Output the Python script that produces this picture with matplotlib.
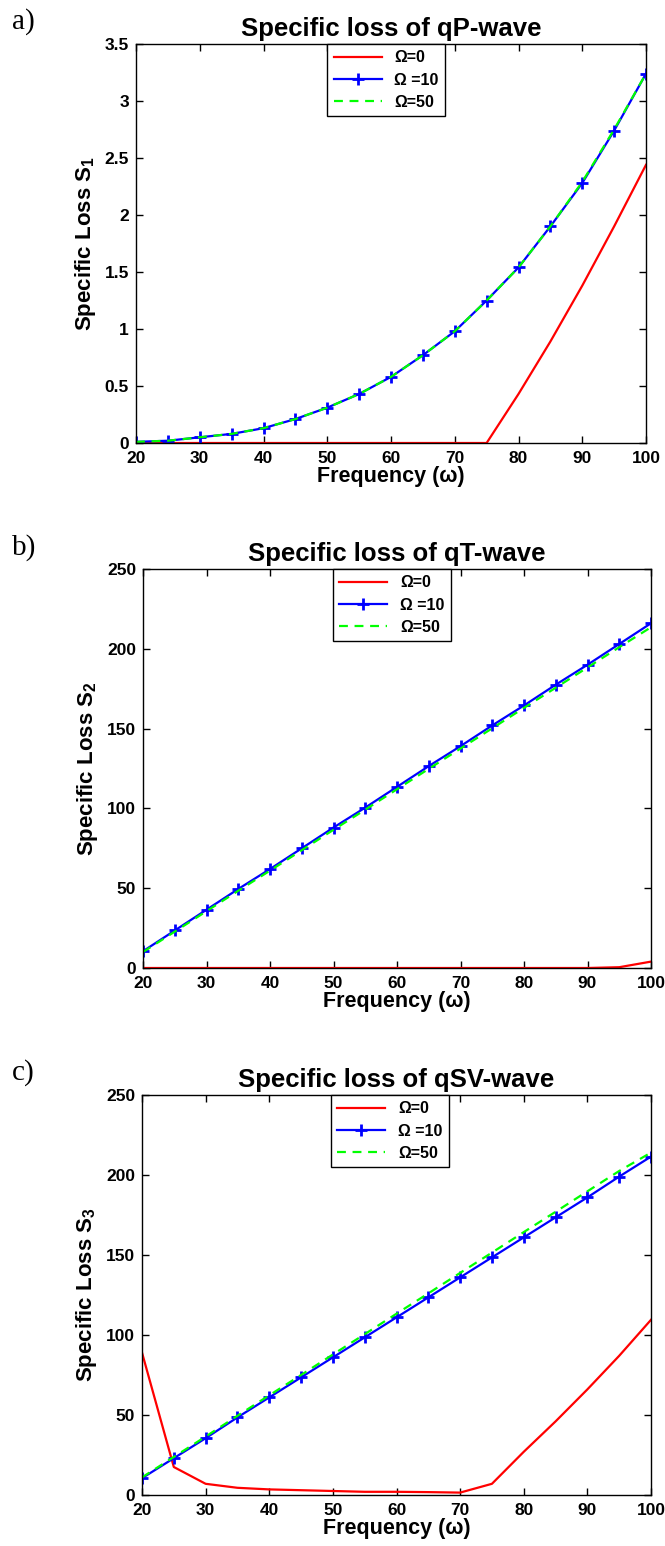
"""
Specific loss of qP, qT and qSV waves for three rotation rates.
"""

import matplotlib
matplotlib.use("Agg")
import matplotlib.pyplot as plt
from matplotlib.ticker import FuncFormatter

# frequency samples
freq = [20, 25, 30, 35, 40, 45, 50, 55, 60, 65, 70, 75, 80, 85, 90, 95, 100]

# a) qP-wave
qp_om0 = [0, 0, 0, 0, 0, 0, 0, 0, 0, 0, 0, 0, 0.43, 0.89, 1.38, 1.90, 2.44]
qp_om10 = [0.01, 0.02, 0.05, 0.08, 0.13, 0.21, 0.31, 0.43, 0.58, 0.77,
           0.98, 1.25, 1.54, 1.90, 2.28, 2.74, 3.24]
qp_om50 = [0.01, 0.02, 0.05, 0.08, 0.13, 0.21, 0.31, 0.43, 0.58, 0.77,
           0.98, 1.25, 1.54, 1.90, 2.29, 2.75, 3.24]

# b) qT-wave
qt_om0 = [0, 0, 0, 0, 0, 0, 0, 0, 0, 0, 0, 0, 0, 0, 0, 0.5, 4.0]
qt_om10 = [10.5, 23.5, 36.5, 49.5, 62.0, 75.0, 88.0, 100.5, 113.5, 126.5,
           139.0, 152.0, 164.5, 177.5, 190.0, 203.0, 216.0]
qt_om50 = [10.0, 22.8, 35.6, 48.4, 61.0, 73.8, 86.6, 99.2, 112.0, 124.8,
           137.5, 150.2, 163.0, 175.6, 188.3, 201.0, 213.5]

# c) qSV-wave
qsv_om0 = [89.0, 17.5, 7.0, 4.5, 3.5, 3.0, 2.5, 2.0, 2.0, 1.8,
           1.5, 7.0, 27.0, 46.0, 66.0, 87.0, 109.5]
qsv_om10 = [10.5, 23.0, 35.5, 48.5, 61.0, 73.5, 86.0, 98.5, 111.0, 123.5,
            136.0, 148.5, 161.0, 173.5, 186.0, 199.0, 211.5]
qsv_om50 = [11.0, 23.8, 36.5, 49.5, 62.3, 75.0, 87.8, 100.5, 113.3, 126.0,
            138.8, 151.5, 164.3, 177.0, 189.8, 202.5, 214.0]

labels = ["\u03a9=0", "\u03a9 =10", "\u03a9=50"]
panels = [
    ("a)", "Specific loss of qP-wave", "1", qp_om0, qp_om10, qp_om50,
     3.5, [0, 0.5, 1, 1.5, 2, 2.5, 3, 3.5]),
    ("b)", "Specific loss of qT-wave", "2", qt_om0, qt_om10, qt_om50,
     250, [0, 50, 100, 150, 200, 250]),
    ("c)", "Specific loss of qSV-wave", "3", qsv_om0, qsv_om10, qsv_om50,
     250, [0, 50, 100, 150, 200, 250]),
]

W, H = 665, 1546
# axes boxes in pixels: left, top, right, bottom
boxes = [(136, 44, 646, 443), (143, 569, 651, 968), (142, 1095, 651, 1495)]
tag_y = [22, 548, 1073]
legend_x = [0.375, 0.374, 0.371]

plt.rcParams["font.family"] = ["Liberation Sans", "DejaVu Sans"]
plt.rcParams["font.weight"] = "bold"
plt.rcParams["mathtext.fontset"] = "custom"
plt.rcParams["mathtext.rm"] = "Liberation Sans:bold"
plt.rcParams["mathtext.default"] = "rm"

fig = plt.figure(figsize=(W / 100, H / 100), dpi=100)

for i, (tag, title, sub, om0, om10, om50, ymax, yticks) in enumerate(panels):
    l, t, r, b = boxes[i]
    ax = fig.add_axes([l / W, 1 - b / H, (r - l) / W, (b - t) / H])

    ax.plot(freq, om0, color="#ff0000", lw=1.6, label=labels[0])
    ax.plot(freq, om10, color="#0000ff", lw=1.6, marker="+", ms=9, mew=2,
            label=labels[1])
    ax.plot(freq, om50, color="#00ff00", lw=1.6, dashes=(4, 3),
            label=labels[2])

    ax.set_xlim(20, 100)
    ax.set_ylim(0, ymax)
    ax.set_xticks(range(20, 101, 10))
    ax.set_yticks(yticks)
    ax.yaxis.set_major_formatter(FuncFormatter(lambda v, p: "%g" % v))
    ax.tick_params(direction="in", top=True, right=True, length=5, width=1,
                   labelsize=12.5)
    ax.tick_params(axis="x", pad=6)
    ax.tick_params(axis="y", pad=5)
    for lab in ax.get_xticklabels() + ax.get_yticklabels():
        lab.set_fontweight("bold")
    for sp in ax.spines.values():
        sp.set_linewidth(1)

    ax.set_title(title, fontsize=18.5, fontweight="bold", pad=6)
    ax.set_xlabel("Frequency (\u03c9)", fontsize=15.5, fontweight="bold",
                  labelpad=0)
    ax.set_ylabel("Specific Loss S$_{" + sub + "}$", fontsize=16,
                  fontweight="bold", labelpad=5)

    leg = ax.legend(loc="upper left", bbox_to_anchor=(legend_x[i], 1.0),
                    borderaxespad=0, fancybox=False, framealpha=1,
                    edgecolor="black", handlelength=3.0,
                    prop={"weight": "bold", "size": 11.5},
                    labelspacing=0.45, borderpad=0.4)
    leg.get_frame().set_linewidth(1)

    fig.text(12 / W, 1 - tag_y[i] / H, tag, family="Liberation Serif",
             fontsize=21, fontweight="normal", va="center", ha="left")

fig.savefig("out.png", dpi=100)
